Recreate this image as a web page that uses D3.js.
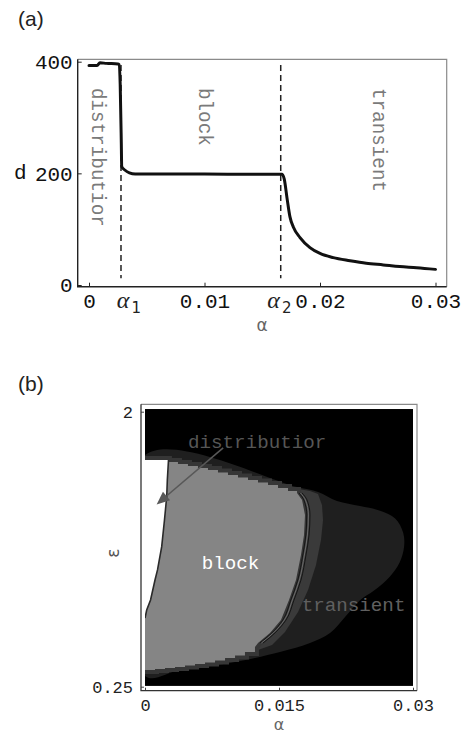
<!DOCTYPE html>
<html><head><meta charset="utf-8">
<script src="https://cdn.jsdelivr.net/npm/d3@7"></script>
<style>
html,body{margin:0;padding:0;background:#fff;}
svg{display:block;}
</style></head><body>
<svg id="chart" width="464" height="732"></svg>
<script>
// ---------- panel (a): d versus alpha ----------
const alphaCurve = [0, 0.0007, 0.00095, 0.0015, 0.0025, 0.0026, 0.0027, 0.0028, 0.00283, 0.0031, 0.0035, 0.004, 0.008, 0.012, 0.0167, 0.0169, 0.01717, 0.0174, 0.01769, 0.01827, 0.01913, 0.02, 0.02115, 0.0226, 0.024, 0.02548, 0.0269, 0.02837, 0.03];
const dCurve     = [393, 393, 398, 397, 396, 395, 360, 250, 212, 206, 201, 199, 199, 198.5, 198.5, 190, 152, 122, 104, 85, 67, 56.5, 49, 43.5, 39, 36, 33, 31, 28];
const alphaCritical = [0.00277, 0.0166];
const criticalSpan = [12, 394];
const dTicks = [0, 200, 400];
const alphaTicksA = [0, 0.01, 0.02, 0.03];
const critLabelAlpha = [0.00345, 0.01648];
const critLabelIndex = ["1", "2"];
const regimeNamesA = ["distributior", "block", "transient"];
const regimeAlphaA = [0.00072, 0.00996, 0.0250];
const regimeTopD = 353;

// ---------- panel (b): regimes in the (alpha, epsilon) plane ----------
const distributionEdge = [[0,1.693],[0.00263,1.693],[0.00250,1.565],[0.00243,1.459],[0.00218,1.311],[0.00187,1.141],[0.00140,0.993],[0.00112,0.929],[0.00062,0.802],[0.00019,0.738],[0,0.687]];
const blockTop = [[0,1.693],[0.00257,1.680],[0.00369,1.667],[0.00481,1.655],[0.00593,1.642],[0.00705,1.629],[0.00817,1.613],[0.00929,1.597],[0.01041,1.581],[0.01153,1.565],[0.01265,1.549],[0.01377,1.534],[0.01489,1.515],[0.01601,1.496],[0.01702,1.483]];
const blockRight = [[0.01758,1.438],[0.01791,1.343],[0.01780,1.215],[0.01746,1.088],[0.01690,0.929],[0.01612,0.802],[0.01522,0.674],[0.01399,0.592],[0.01265,0.528]];
const blockBottom = [[0,0.356],[0.00112,0.363],[0.00224,0.369],[0.00336,0.375],[0.00448,0.385],[0.00560,0.394],[0.00672,0.404],[0.00784,0.417],[0.00896,0.433],[0.01008,0.449],[0.01119,0.471],[0.01231,0.503]];
const nearBand = [[0.01702,1.509],[0.01847,1.496],[0.01937,1.477],[0.01981,1.406],[0.01993,1.311],[0.01970,1.184],[0.01914,1.024],[0.01825,0.865],[0.01713,0.725],[0.01567,0.598],[0.01422,0.515],[0.01265,0.483],[0.01175,0.802],[0.01511,1.438]];
const transientEdge = [[0,1.724],[0.01702,1.521],[0.01937,1.489],[0.02149,1.432],[0.02407,1.400],[0.02631,1.370],[0.02800,1.320],[0.02890,1.230],[0.02900,1.140],[0.02850,1.040],[0.02740,0.950],[0.02560,0.860],[0.02407,0.800],[0.02239,0.694],[0.02071,0.592],[0.01847,0.528],[0.01511,0.471],[0.00952,0.401],[0.00392,0.356],[0,0.318]];
const epsTicks = [0.25, 2];
const alphaTicksB = [0, 0.015, 0.03];
const labelDistB = [0.00482, 1.77];
const labelBlockB = [0.00635, 1.0];
const labelTransB = [0.01755, 0.73];
const arrowB = [[0.00875, 1.77], [0.00130, 1.41]];

const mono = "'Liberation Mono', 'DejaVu Sans Mono', monospace";
const svg = d3.select("#chart");

// ===== panel (a) =====
const xA = d3.scaleLinear().domain([0, 0.03]).range([89, 435.5]);
const yA = d3.scaleLinear().domain([0, 400]).range([285, 61.7]);
const frameA = {l: 77.7, r: 446.7, t: 59.3, b: 286.7};

const gA = svg.append("g");
gA.append("text").attr("x", 18).attr("y", 25.6)
  .attr("font-family", "'Liberation Sans', Arial, sans-serif").attr("font-size", 21)
  .attr("fill", "#222").text("(a)");

// top and right frame edges
gA.append("path")
  .attr("d", `M${frameA.l},${frameA.t}H${frameA.r}V${frameA.b}`)
  .attr("fill", "none").attr("stroke", "#8a8a8a").attr("stroke-width", 1.2);

// regime labels
regimeNamesA.forEach((t, i) => {
  gA.append("text")
    .attr("transform", `translate(${xA(regimeAlphaA[i])},${yA(regimeTopD)}) rotate(90)`)
    .attr("dominant-baseline", "central")
    .attr("font-family", mono).attr("font-size", 19.3).attr("fill", "#7a7a7a")
    .text(t);
});

// critical alphas
gA.selectAll("line.crit").data(alphaCritical).join("line")
  .attr("x1", d => xA(d)).attr("x2", d => xA(d))
  .attr("y1", yA(criticalSpan[1])).attr("y2", yA(criticalSpan[0]))
  .attr("stroke", "#222").attr("stroke-width", 1.5).attr("stroke-dasharray", "6,4");

// d curve
gA.append("path")
  .datum(alphaCurve.map((a, i) => [a, dCurve[i]]))
  .attr("d", d3.line().x(d => xA(d[0])).y(d => yA(d[1])).curve(d3.curveMonotoneX))
  .attr("fill", "none").attr("stroke", "#111").attr("stroke-width", 3)
  .attr("stroke-linejoin", "round").attr("stroke-linecap", "round");

// axes
const axLA = gA.append("g").attr("transform", `translate(${frameA.l},0)`)
  .call(d3.axisLeft(yA).tickValues(dTicks).tickSize(-4).tickPadding(5).tickFormat(d3.format("d")));
const axBA = gA.append("g").attr("transform", `translate(0,${frameA.b})`)
  .call(d3.axisBottom(xA).tickValues(alphaTicksA).tickSize(-4).tickPadding(6)
    .tickFormat(d => d === 0 ? "0" : d3.format(".2f")(d)));
[axLA, axBA].forEach(ax => {
  ax.select(".domain").remove();
  ax.selectAll("text").attr("font-family", mono).attr("font-size", 21).attr("fill", "#111");
  ax.selectAll("line").attr("stroke", "#222");
});
gA.append("path").attr("d", `M${frameA.l},${frameA.t}V${frameA.b}H${frameA.r}`)
  .attr("fill", "none").attr("stroke", "#222").attr("stroke-width", 1.4);

gA.append("text").attr("x", 14).attr("y", yA(200)).attr("dominant-baseline", "central")
  .attr("font-family", mono).attr("font-size", 21).attr("fill", "#111").text("d");

critLabelAlpha.forEach((a, i) => {
  const t = gA.append("text").attr("x", xA(a)).attr("y", 308).attr("text-anchor", "middle").attr("fill", "#222");
  t.append("tspan").attr("font-family", "'Liberation Serif', 'DejaVu Serif', serif")
    .attr("font-style", "italic").attr("font-size", 24).text("α");
  t.append("tspan").attr("font-family", "'DejaVu Sans', sans-serif").attr("font-size", 15)
    .attr("dx", 2).attr("dy", 5).text(critLabelIndex[i]);
});
gA.append("text").attr("x", (frameA.l + frameA.r) / 2).attr("y", 331).attr("text-anchor", "middle")
  .attr("font-family", "'DejaVu Sans', sans-serif").attr("font-size", 17).attr("fill", "#666").text("α");

// ===== panel (b) =====
const xB = d3.scaleLinear().domain([0, 0.03]).range([145, 413]);
const yB = d3.scaleLinear().domain([0.25, 2]).range([686.7, 411.7]);
const frameB = {l: 141, r: 417, t: 404.3, b: 690.7};
const gB = svg.append("g");

gB.append("text").attr("x", 18).attr("y", 390.6)
  .attr("font-family", "'Liberation Sans', Arial, sans-serif").attr("font-size", 21)
  .attr("fill", "#222").text("(b)");

svg.append("defs").append("clipPath").attr("id", "plotB").append("rect")
  .attr("x", xB(0)).attr("y", yB(2.017)).attr("width", xB(0.03) - xB(0)).attr("height", yB(0.255) - yB(2.017));

const field = gB.append("g").attr("clip-path", "url(#plotB)");
field.append("rect").attr("x", xB(0)).attr("y", yB(2.017))
  .attr("width", xB(0.03) - xB(0)).attr("height", yB(0.255) - yB(2.017)).attr("fill", "#000");

const lineB = d3.line().x(d => xB(d[0])).y(d => yB(d[1]));
function stairs(pts) {
  const out = [pts[0]];
  for (let i = 1; i < pts.length; i++) { out.push([pts[i][0], pts[i - 1][1]]); out.push(pts[i]); }
  return out;
}

field.append("path")
  .attr("d", d3.line().x(d => xB(d[0])).y(d => yB(d[1])).curve(d3.curveCatmullRomClosed)(transientEdge))
  .attr("fill", "#1f1f1f");

const blockPoly = stairs(blockTop).concat(blockRight, stairs(blockBottom).reverse());
field.append("path").attr("d", lineB(nearBand) + "Z").attr("fill", "#3a3a3a");
field.append("path").attr("d", lineB(blockPoly) + "Z")
  .attr("fill", "#3a3a3a").attr("stroke", "#363636").attr("stroke-width", 8).attr("stroke-linejoin", "miter");
field.append("path").attr("d", lineB(blockPoly) + "Z").attr("fill", "#858585");

// contour lines along the block edge
const edgePath = d3.line().x(d => xB(d[0])).y(d => yB(d[1])).curve(d3.curveMonotoneY)([blockTop[blockTop.length - 1]].concat(blockRight));
[[1.8, "#151515", 1], [3.4, "#707070", 0.9], [5, "#151515", 1]].forEach(([dx, c, w]) => {
  field.append("path").attr("d", edgePath).attr("transform", `translate(${dx},0)`)
    .attr("fill", "none").attr("stroke", c).attr("stroke-width", w);
});

field.append("path").attr("d", lineB(distributionEdge) + "Z").attr("fill", "#fff");
field.append("path").attr("d", lineB(distributionEdge.slice(1)))
  .attr("fill", "none").attr("stroke", "#2a2a2a").attr("stroke-width", 1.6);

// labels and arrow
gB.append("text").attr("x", xB(labelDistB[0])).attr("y", yB(labelDistB[1]))
  .attr("font-family", mono).attr("font-size", 19.2).attr("fill", "#565656").text("distributior");
gB.append("text").attr("x", xB(labelBlockB[0])).attr("y", yB(labelBlockB[1]))
  .attr("font-family", mono).attr("font-size", 19.2).attr("fill", "#fff").text("block");
gB.append("text").attr("x", xB(labelTransB[0])).attr("y", yB(labelTransB[1]))
  .attr("font-family", mono).attr("font-size", 19.2).attr("fill", "#606060").text("transient");

const [p0, p1] = arrowB.map(d => [xB(d[0]), yB(d[1])]);
const ang = Math.atan2(p1[1] - p0[1], p1[0] - p0[0]);
const headL = 13, headW = 5.5;
const base = [p1[0] - headL * Math.cos(ang), p1[1] - headL * Math.sin(ang)];
gB.append("line").attr("x1", p0[0]).attr("y1", p0[1]).attr("x2", base[0]).attr("y2", base[1])
  .attr("stroke", "#585858").attr("stroke-width", 1.6);
gB.append("path").attr("d", `M${p1[0]},${p1[1]}L${base[0] + headW * Math.sin(ang)},${base[1] - headW * Math.cos(ang)}L${base[0] - headW * Math.sin(ang)},${base[1] + headW * Math.cos(ang)}Z`)
  .attr("fill", "#585858");

// frame and axes
gB.append("path").attr("d", `M${frameB.l},${frameB.t}H${frameB.r}V${frameB.b}`)
  .attr("fill", "none").attr("stroke", "#8a8a8a").attr("stroke-width", 1.2);
const axLB = gB.append("g").attr("transform", `translate(${frameB.l},0)`)
  .call(d3.axisLeft(yB).tickValues(epsTicks).tickSize(-3).tickPadding(8).tickFormat(d => d === 2 ? "2" : "0.25"));
const axBB = gB.append("g").attr("transform", `translate(0,${frameB.b})`)
  .call(d3.axisBottom(xB).tickValues(alphaTicksB).tickSize(-3).tickPadding(8)
    .tickFormat(d => d === 0 ? "0" : (d === 0.015 ? "0.015" : "0.03")));
[axLB, axBB].forEach(ax => {
  ax.select(".domain").remove();
  ax.selectAll("text").attr("font-family", mono).attr("font-size", 17).attr("fill", "#222");
  ax.selectAll("line").attr("stroke", "#444");
});
gB.append("path").attr("d", `M${frameB.l},${frameB.t}V${frameB.b}H${frameB.r}`)
  .attr("fill", "none").attr("stroke", "#333").attr("stroke-width", 1.3);

gB.append("text").attr("transform", `translate(113,${yB(1.1)}) rotate(-90)`)
  .attr("text-anchor", "middle").attr("dominant-baseline", "central")
  .attr("font-family", "'DejaVu Sans', sans-serif").attr("font-size", 17).attr("fill", "#555").text("ε");
gB.append("text").attr("x", (frameB.l + frameB.r) / 2).attr("y", 729.5).attr("text-anchor", "middle")
  .attr("font-family", "'DejaVu Sans', sans-serif").attr("font-size", 16).attr("fill", "#666").text("α");
</script>
</body></html>
